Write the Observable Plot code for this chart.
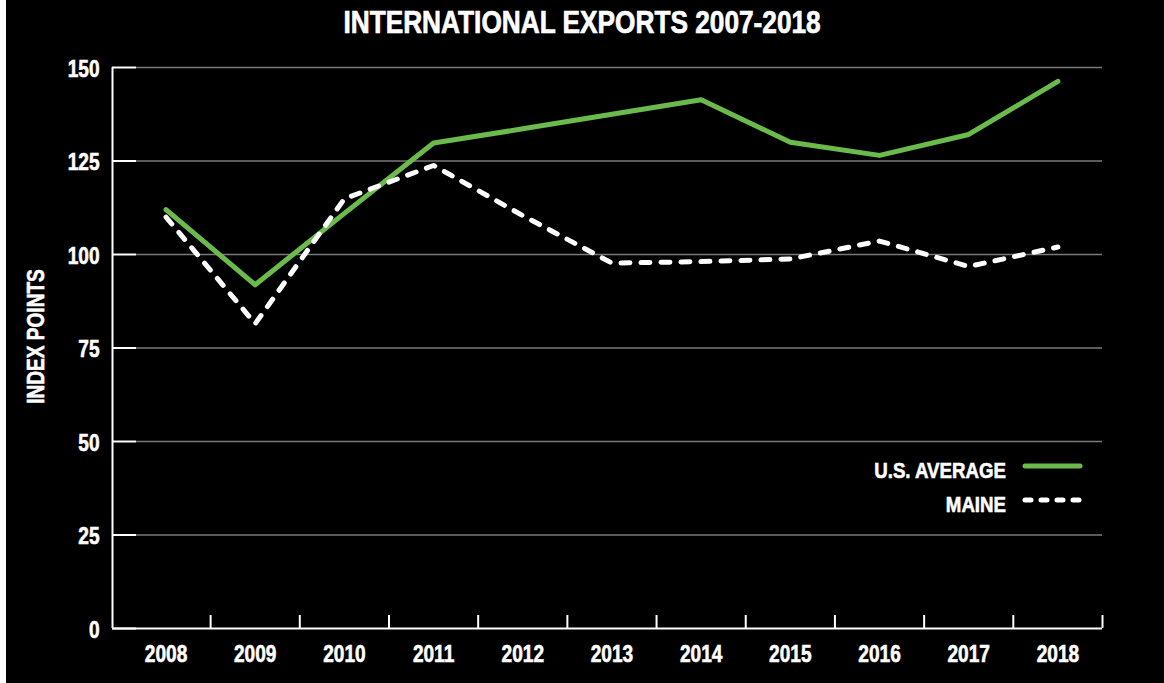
<!DOCTYPE html>
<html>
<head>
<meta charset="utf-8">
<script src="https://cdn.jsdelivr.net/npm/d3@7"></script>
<script src="https://cdn.jsdelivr.net/npm/@observablehq/plot@0.6"></script>
<style>
  html, body { margin: 0; padding: 0; background: #fff; }
  #wrap {
    position: absolute; left: 6px; top: 0; width: 1158px; height: 683px;
    background: #000; overflow: hidden; color: #fff;
    font-family: "Liberation Sans", Arial, sans-serif;
    font-weight: 700;
  }
  #title {
    height: 46px; line-height: 44px; font-size: 32px; text-align: center;
    padding-right: 6px; white-space: nowrap;
  }
  #title span {
    display: inline-block; transform: scaleX(0.82); transform-origin: 50% 50%;
    -webkit-text-stroke: 0.7px #fff;
  }
  #chart { position: absolute; left: 0; top: 46px; }
  #legend { position: absolute; left: 0; top: 0; pointer-events: none; }
  #wrap svg text { stroke: #fff; stroke-width: 0.6px; paint-order: stroke; }
</style>
</head>
<body>
<div id="wrap">
  <div id="title"><span></span></div>
  <div id="chart"></div>
  <svg id="legend" width="1158" height="683"></svg>
</div>
<script>
const FONT = '"Liberation Sans", Arial, sans-serif';
const NARROW = 0.83;
const GREEN = "#6abb4c";

const titleText = "INTERNATIONAL EXPORTS 2007-2018";
const yLabel = "INDEX POINTS";
const years = [2008, 2009, 2010, 2011, 2012, 2013, 2014, 2015, 2016, 2017, 2018];
const usAverage = [112.0, 91.9, 111.0, 129.8, 133.6, 137.5, 141.4, 130.0, 126.5, 132.1, 146.3];
const maine = [110.0, 81.5, 114.9, 123.8, 110.4, 97.7, 98.1, 98.8, 103.6, 96.8, 102.0];
const seriesNames = ["U.S. AVERAGE", "MAINE"];
const yTicks = [0, 25, 50, 75, 100, 125, 150];

document.querySelector("#title span").textContent = titleText;

const data = years.flatMap((yr, i) => [
  {year: yr, series: seriesNames[0], value: usAverage[i]},
  {year: yr, series: seriesNames[1], value: maine[i]}
]);
const boundaries = years.map(y => y + 0.5);

const W = 1158, H = 637, mL = 106, mR = 62, mT = 21, mB = 55;
const frameW = W - mL - mR, frameH = H - mT - mB;
const xDomain = [2007.4, 2018.5];

const chart = Plot.plot({
  width: W, height: H,
  marginLeft: mL, marginRight: mR, marginTop: mT, marginBottom: mB,
  style: {background: "#000", color: "#fff", fontFamily: FONT, fontWeight: "bold", overflow: "visible"},
  x: {type: "linear", domain: xDomain},
  y: {domain: [0, 150]},
  marks: [
    Plot.ruleY(yTicks.slice(1), {stroke: "#7a7a7a", strokeWidth: 1.5, insetLeft: 24}),
    Plot.ruleY(yTicks, {stroke: "#fff", strokeWidth: 2, insetRight: frameW - 24}),
    Plot.ruleX([xDomain[0]], {y1: 0, y2: 150, stroke: "#fff", strokeWidth: 2}),
    Plot.ruleY([0], {stroke: "#fff", strokeWidth: 2}),
    Plot.ruleX(boundaries, {stroke: "#fff", strokeWidth: 2, insetTop: frameH - 13}),
    Plot.axisY({ticks: yTicks, tickSize: 0, tickPadding: 13, fontSize: 23, tickFormat: d => String(d), label: null, dy: 2}),
    Plot.axisX({ticks: years, tickSize: 0, tickPadding: 17, fontSize: 23, tickFormat: d => String(d), label: null}),
    Plot.line(data.filter(d => d.series === seriesNames[0]), {x: "year", y: "value", stroke: GREEN, strokeWidth: 5, strokeLinejoin: "round", strokeLinecap: "round"}),
    Plot.line(data.filter(d => d.series === seriesNames[1]), {x: "year", y: "value", stroke: "#fff", strokeWidth: 5, strokeDasharray: "9,11", strokeLinecap: "round", strokeLinejoin: "round"})
  ]
});
document.getElementById("chart").appendChild(chart);

const lg = d3.select("#legend");

// y axis title
lg.append("text")
  .attr("transform", "translate(29.5, 336.5) rotate(-90)")
  .attr("text-anchor", "middle")
  .attr("dy", "0.35em")
  .attr("fill", "#fff")
  .attr("font-size", 23)
  .attr("font-family", FONT)
  .attr("font-weight", "bold")
  .text(yLabel);

// legend
const legendStyles = [
  {stroke: GREEN, dash: null},
  {stroke: "#fff", dash: "6,10"}
];
const rows = lg.selectAll("g.row").data(seriesNames).join("g")
  .attr("class", "row")
  .attr("transform", (d, i) => `translate(0, ${i * 34})`);
rows.append("text")
  .attr("x", 1000).attr("y", 477.5)
  .attr("text-anchor", "end")
  .attr("fill", "#fff")
  .attr("font-size", 22.5)
  .attr("font-family", FONT)
  .attr("font-weight", "bold")
  .text(d => d);
rows.append("line")
  .attr("x1", 1019).attr("x2", 1074)
  .attr("y1", 466).attr("y2", 466)
  .attr("stroke", (d, i) => legendStyles[i].stroke)
  .attr("stroke-width", 5)
  .attr("stroke-linecap", "round")
  .attr("stroke-dasharray", (d, i) => legendStyles[i].dash);

// condense all text horizontally (narrow bold face look)
document.querySelectorAll("#wrap svg text").forEach(t => {
  const len = t.getComputedTextLength();
  if (len > 0) {
    t.setAttribute("textLength", (len * NARROW).toFixed(2));
    t.setAttribute("lengthAdjust", "spacingAndGlyphs");
  }
});
</script>
</body>
</html>
